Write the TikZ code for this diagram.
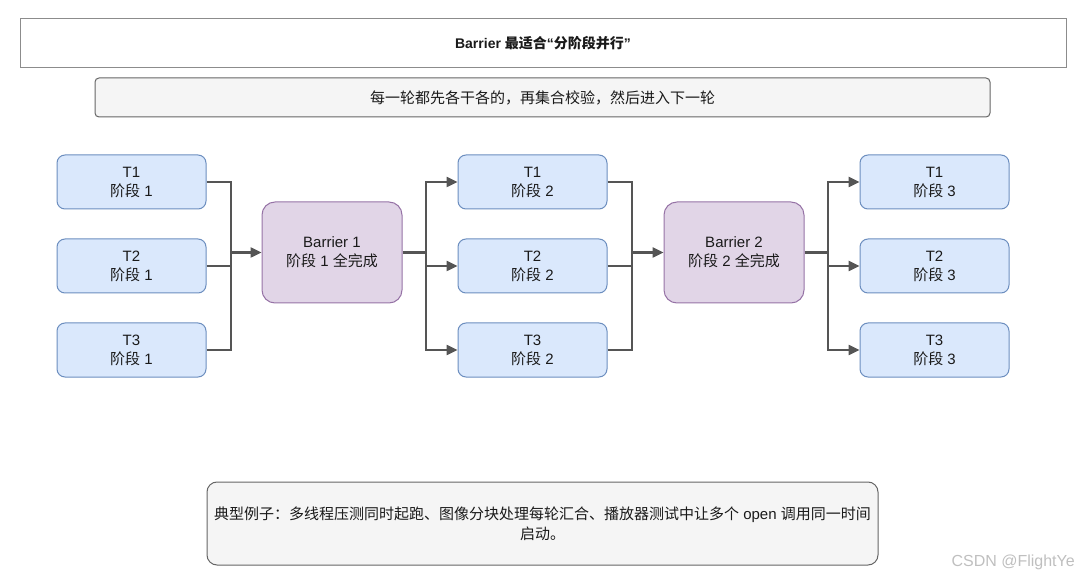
\documentclass[tikz,border=0pt]{standalone}
\usepackage{fontspec}
\setmainfont{Liberation Sans}
\newfontfamily\cjk{Noto Sans CJK SC}
\newcommand{\zh}[1]{{\cjk #1}}
\usetikzlibrary{arrows.meta}
\definecolor{tfill}{HTML}{DAE8FC}
\definecolor{tdraw}{HTML}{6C8EBF}
\definecolor{bfill}{HTML}{E1D5E7}
\definecolor{bdraw}{HTML}{9673A6}
\definecolor{nfill}{HTML}{F5F5F5}
\definecolor{ndraw}{HTML}{666666}
\definecolor{lcol}{HTML}{555555}
\definecolor{tcol}{HTML}{1A1A1A}
\tikzset{
  tbox/.style={draw=tdraw, fill=tfill, rounded corners=8pt, line width=1pt,
    minimum width=149pt, minimum height=54pt, inner sep=0pt, align=center,
    text=tcol, font=\fontsize{15}{19}\selectfont},
  bbox/.style={draw=bdraw, fill=bfill, rounded corners=13pt, line width=1pt,
    minimum width=140pt, minimum height=101pt, inner sep=0pt, align=center,
    text=tcol, font=\fontsize{15}{19}\selectfont},
  notebox/.style={draw=ndraw, fill=nfill, line width=1pt, inner sep=0pt,
    align=center, text=tcol, font=\fontsize{15}{20}\selectfont},
  conn/.style={draw=lcol, line width=2.4pt},
  arr/.style={conn, -{Triangle[length=11pt,width=10pt]}},
}
\begin{document}
\begin{tikzpicture}[x=1pt,y=-1pt]
\useasboundingbox (0,0) rectangle (1080,580);
% title
\node[draw=black!45, fill=white, line width=1pt, minimum width=1046pt, minimum height=49pt, inner sep=0pt,
  font=\fontsize{14}{17}\selectfont\bfseries, text=tcol] (title) at (543,43.5)
  {Barrier \zh{最适合}“\zh{分阶段并行}”};
% subtitle
\node[notebox, rounded corners=4pt, minimum width=895pt, minimum height=39pt] (sub) at (542.5,97.5)
  {\zh{每一轮都先各干各的，再集合校验，然后进入下一轮}};
% column 1
\node[tbox] (a1) at (131.5,182) {T1\\\zh{阶段} 1};
\node[tbox] (a2) at (131.5,266) {T2\\\zh{阶段} 1};
\node[tbox] (a3) at (131.5,350) {T3\\\zh{阶段} 1};
% barrier 1
\node[bbox] (b1) at (332,252.5) {Barrier 1\\\zh{阶段} 1 \zh{全完成}};
% column 2
\node[tbox] (c1) at (532.5,182) {T1\\\zh{阶段} 2};
\node[tbox] (c2) at (532.5,266) {T2\\\zh{阶段} 2};
\node[tbox] (c3) at (532.5,350) {T3\\\zh{阶段} 2};
% barrier 2
\node[bbox] (b2) at (734,252.5) {Barrier 2\\\zh{阶段} 2 \zh{全完成}};
% column 3
\node[tbox] (d1) at (934.5,182) {T1\\\zh{阶段} 3};
\node[tbox] (d2) at (934.5,266) {T2\\\zh{阶段} 3};
\node[tbox] (d3) at (934.5,350) {T3\\\zh{阶段} 3};
% junctions
\coordinate (j1) at (231,252.5);
\coordinate (k1) at (426,252.5);
\coordinate (j2) at (632,252.5);
\coordinate (k2) at (828,252.5);
% connectors into barrier 1
\draw[conn] (a1.east) -| (j1);
\draw[conn] (a2.east) -| (j1);
\draw[conn] (a3.east) -| (j1);
\draw[arr] (j1) -- (b1.west);
% out of barrier 1
\draw[conn] (b1.east) -- (k1);
\draw[arr] (k1) |- (c1.west);
\draw[arr] (k1) |- (c2.west);
\draw[arr] (k1) |- (c3.west);
% into barrier 2
\draw[conn] (c1.east) -| (j2);
\draw[conn] (c2.east) -| (j2);
\draw[conn] (c3.east) -| (j2);
\draw[arr] (j2) -- (b2.west);
% out of barrier 2
\draw[conn] (b2.east) -- (k2);
\draw[arr] (k2) |- (d1.west);
\draw[arr] (k2) |- (d2.west);
\draw[arr] (k2) |- (d3.west);
% bottom note
\node[notebox, rounded corners=10pt, minimum width=671pt, minimum height=83pt] (note) at (542.5,523.5)
  {\zh{典型例子：多线程压测同时起跑、图像分块处理每轮汇合、播放器测试中让多个} open \zh{调用同一时间}\\\zh{启动。}};
% watermark
\node[text=black!25, font=\fontsize{16}{18}\selectfont, anchor=east, inner sep=0pt] (wm) at (1075,562) {CSDN @FlightYe};
\end{tikzpicture}
\end{document}
